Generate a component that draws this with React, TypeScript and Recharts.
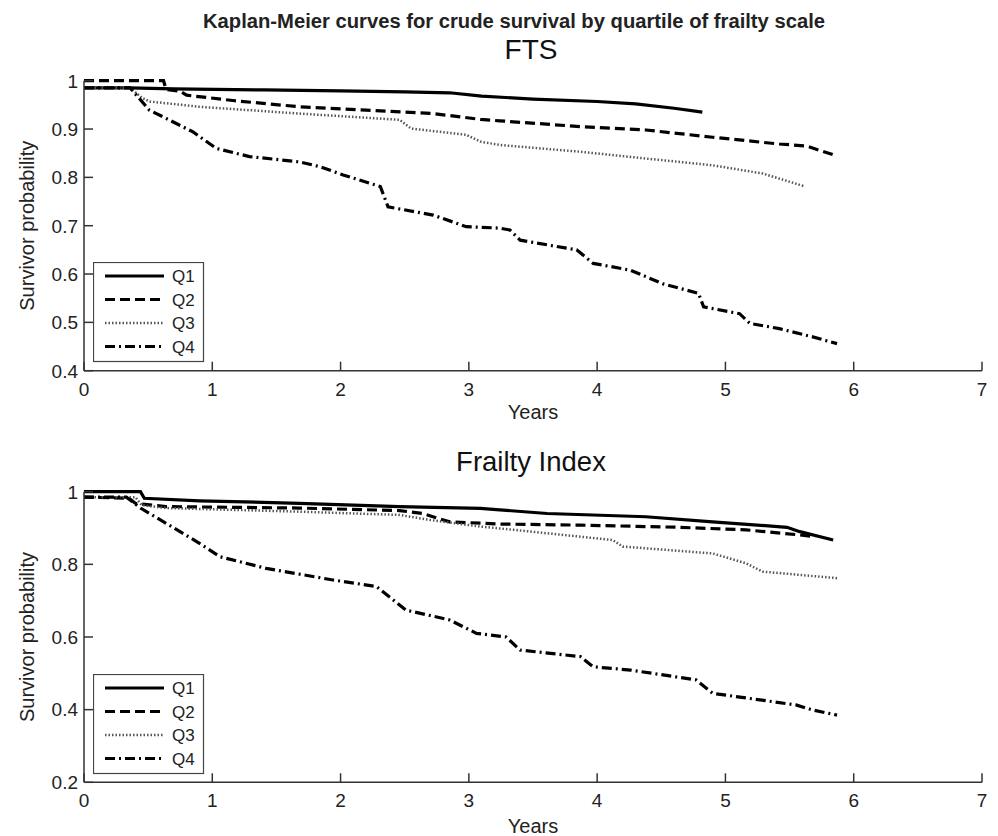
import { LineChart, Line, XAxis, YAxis, Legend } from "recharts";

const FONT = "'Liberation Sans', Arial, Helvetica, sans-serif";

const quartiles = ["Q1", "Q2", "Q3", "Q4"];
const yearTicks = [0, 1, 2, 3, 4, 5, 6, 7];
const ftsTicks = [0.4, 0.5, 0.6, 0.7, 0.8, 0.9, 1];
const fiTicks = [0.2, 0.4, 0.6, 0.8, 1];

// FTS panel, [years, survivor probability]
const ftsQ1 = [
  [0, 0.985], [0.35, 0.985], [0.7, 0.983], [1.4, 0.981], [2.0, 0.979], [2.5, 0.977],
  [2.85, 0.975], [3.1, 0.968], [3.5, 0.962], [4.0, 0.957], [4.3, 0.952], [4.6, 0.943], [4.82, 0.935],
];
const ftsQ2 = [
  [0, 1], [0.62, 1], [0.64, 0.982], [0.75, 0.978], [0.8, 0.97], [1.16, 0.959], [1.68, 0.946],
  [2.2, 0.939], [2.72, 0.932], [3.09, 0.92], [3.24, 0.917], [3.87, 0.905], [4.38, 0.898],
  [4.9, 0.883], [5.42, 0.869], [5.63, 0.865], [5.85, 0.846],
];
const ftsQ3 = [
  [0, 0.985], [0.36, 0.985], [0.45, 0.965], [0.51, 0.957], [0.9, 0.946], [1.68, 0.932],
  [2.46, 0.919], [2.55, 0.901], [2.98, 0.888], [3.09, 0.874], [3.24, 0.867], [3.87, 0.853],
  [4.38, 0.839], [4.9, 0.825], [5.29, 0.808], [5.61, 0.782],
];
const ftsQ4 = [
  [0, 0.985], [0.36, 0.985], [0.51, 0.939], [0.64, 0.922], [0.85, 0.894], [1.03, 0.86],
  [1.29, 0.843], [1.68, 0.832], [1.84, 0.822], [2.02, 0.805], [2.31, 0.781], [2.37, 0.739],
  [2.72, 0.722], [2.98, 0.698], [3.24, 0.695], [3.32, 0.691], [3.4, 0.67], [3.84, 0.65],
  [3.97, 0.622], [4.26, 0.608], [4.51, 0.58], [4.79, 0.56], [4.83, 0.532], [5.11, 0.518],
  [5.19, 0.498], [5.42, 0.487], [5.68, 0.47], [5.87, 0.456],
];

// Frailty Index panel
const fiQ1 = [
  [0, 1], [0.44, 1], [0.47, 0.982], [0.9, 0.975], [1.68, 0.968], [2.46, 0.959], [3.09, 0.954],
  [3.24, 0.95], [3.61, 0.94], [4.38, 0.931], [4.9, 0.917], [5.48, 0.902], [5.58, 0.89], [5.84, 0.867],
];
const fiQ2 = [
  [0, 0.985], [0.35, 0.982], [0.4, 0.968], [0.64, 0.959], [1.68, 0.955], [2.46, 0.948],
  [2.64, 0.94], [2.85, 0.917], [3.24, 0.911], [3.87, 0.908], [4.64, 0.902], [5.16, 0.895],
  [5.58, 0.881], [5.7, 0.876],
];
const fiQ3 = [
  [0, 0.985], [0.4, 0.985], [0.45, 0.963], [0.64, 0.955], [1.68, 0.945], [2.46, 0.936],
  [2.7, 0.922], [3.09, 0.904], [3.35, 0.895], [4.12, 0.867], [4.2, 0.849], [4.9, 0.83],
  [5.16, 0.803], [5.29, 0.78], [5.87, 0.762],
];
const fiQ4 = [
  [0, 0.985], [0.33, 0.985], [0.44, 0.955], [0.64, 0.913], [0.9, 0.858], [1.06, 0.821],
  [1.42, 0.789], [1.94, 0.757], [2.28, 0.739], [2.51, 0.674], [2.85, 0.647], [3.06, 0.61],
  [3.29, 0.6], [3.4, 0.564], [3.87, 0.546], [3.97, 0.518], [4.26, 0.509], [4.77, 0.482],
  [4.9, 0.445], [5.55, 0.413], [5.68, 0.399], [5.87, 0.385],
];

const lineStyles = [
  { stroke: "#000", width: 3.2, dash: undefined },
  { stroke: "#000", width: 3.2, dash: "10 5" },
  { stroke: "#555", width: 2.5, dash: "1.5 2" },
  { stroke: "#000", width: 3.2, dash: "10 4 2 4" },
];

const AXIS = "#333";

const toPoints = (pairs: number[][]) => pairs.map(([t, s]) => ({ t, s }));

// ticks point inward, like the original figure
function XTick(props: any) {
  const { x, y, payload } = props;
  return (
    <g>
      <line x1={x} x2={x} y1={y} y2={y - 9} stroke={AXIS} strokeWidth={1.5} />
      <text x={x} y={y + 25} textAnchor="middle" fontSize={19} fontFamily={FONT} fill="#222">
        {payload.value}
      </text>
    </g>
  );
}

function YTick(props: any) {
  const { x, y, payload } = props;
  return (
    <g>
      <line x1={x} x2={x + 9} y1={y} y2={y} stroke={AXIS} strokeWidth={1.5} />
      <text x={x - 6} y={y} dy="0.36em" textAnchor="end" fontSize={19} fontFamily={FONT} fill="#222">
        {String(payload.value)}
      </text>
    </g>
  );
}

function LegendBox() {
  return (
    <svg width={112} height={101} style={{ display: "block" }}>
      <rect x={0.5} y={0.5} width={110} height={99} fill="#fff" stroke="#444" strokeWidth={1.2} />
      {quartiles.map((q, i) => {
        const y = 14 + i * 23.5;
        const st = lineStyles[i];
        return (
          <g key={q}>
            <line x1={12} x2={71} y1={y} y2={y} stroke={st.stroke} strokeWidth={st.width} strokeDasharray={st.dash} />
            <text x={79} y={y} dy="0.36em" fontSize={17} fontFamily={FONT} fill="#222">
              {q}
            </text>
          </g>
        );
      })}
    </svg>
  );
}

interface PanelProps {
  top: number;
  height: number;
  marginTop: number;
  axisHeight: number;
  yearsOffset: number;
  yDomain: [number, number];
  yTicks: number[];
  series: number[][][];
  legendTop: number;
}

function KMPanel({ top, height, marginTop, axisHeight, yearsOffset, yDomain, yTicks, series, legendTop }: PanelProps) {
  return (
    <div style={{ position: "absolute", left: 0, top }}>
      <LineChart width={998} height={height} margin={{ top: marginTop, right: 16, bottom: 0, left: 0 }}>
        <XAxis
          type="number"
          dataKey="t"
          domain={[0, 7]}
          ticks={yearTicks}
          height={axisHeight}
          stroke={AXIS}
          strokeWidth={1.5}
          tickLine={false}
          tickSize={0}
          tickMargin={0}
          tick={<XTick />}
          label={{ value: "Years", position: "insideBottom", offset: yearsOffset, fill: "#222", fontSize: 20, fontFamily: FONT }}
        />
        <YAxis
          type="number"
          domain={yDomain}
          ticks={yTicks}
          width={84}
          stroke={AXIS}
          strokeWidth={1.5}
          tickLine={false}
          tickSize={0}
          tickMargin={0}
          tick={<YTick />}
          label={{
            value: "Survivor probability",
            angle: -90,
            position: "insideLeft",
            offset: 27,
            fill: "#222",
            fontSize: 20,
            fontFamily: FONT,
            style: { textAnchor: "middle" },
          }}
        />
        <Legend
          layout="horizontal"
          verticalAlign="middle"
          align="center"
          content={() => <LegendBox />}
          wrapperStyle={{ left: 93, top: legendTop, width: 112, height: 101 }}
        />
        {series.map((d, i) => (
          <Line
            key={quartiles[i]}
            data={toPoints(d)}
            dataKey="s"
            name={quartiles[i]}
            type="linear"
            stroke={lineStyles[i].stroke}
            strokeWidth={lineStyles[i].width}
            strokeDasharray={lineStyles[i].dash}
            dot={false}
            activeDot={false}
            isAnimationActive={false}
          />
        ))}
      </LineChart>
    </div>
  );
}

export default function App() {
  return (
    <div style={{ position: "absolute", left: 0, top: 0, width: 998, height: 836, background: "#fff", overflow: "hidden" }}>
      <KMPanel
        top={0}
        height={430}
        marginTop={80.7}
        axisHeight={59.3}
        yearsOffset={10.7}
        yDomain={[0.4, 1]}
        yTicks={ftsTicks}
        series={[ftsQ1, ftsQ2, ftsQ3, ftsQ4]}
        legendTop={262}
      />
      <KMPanel
        top={430}
        height={406}
        marginTop={61.7}
        axisHeight={53.7}
        yearsOffset={3}
        yDomain={[0.2, 1]}
        yTicks={fiTicks}
        series={[fiQ1, fiQ2, fiQ3, fiQ4]}
        legendTop={244}
      />
      <svg width={998} height={836} style={{ position: "absolute", left: 0, top: 0, pointerEvents: "none" }}>
        <text x={514} y={28} textAnchor="middle" fontSize={20} fontWeight="bold" fontFamily={FONT} fill="#222" textLength={622} lengthAdjust="spacingAndGlyphs">
          Kaplan-Meier curves for crude survival by quartile of frailty scale
        </text>
        <text x={531} y={59} textAnchor="middle" fontSize={28} fontFamily={FONT} fill="#111">
          FTS
        </text>
        <text x={531} y={471} textAnchor="middle" fontSize={27.5} fontFamily={FONT} fill="#111">
          Frailty Index
        </text>
      </svg>
    </div>
  );
}
